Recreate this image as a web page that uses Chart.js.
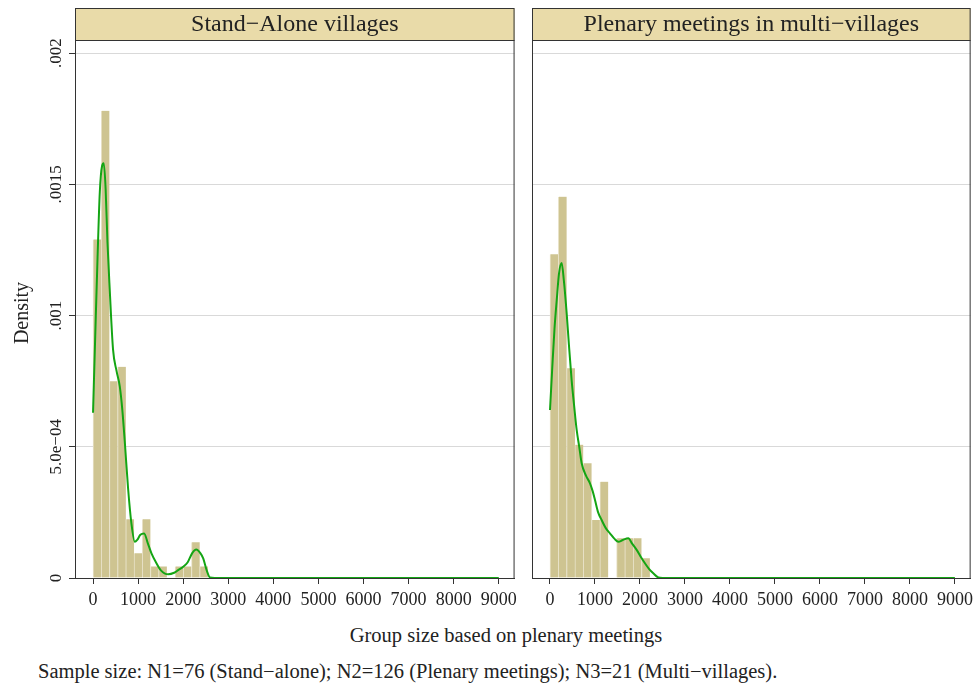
<!DOCTYPE html>
<html>
<head>
<meta charset="utf-8">
<script src="https://cdn.jsdelivr.net/npm/chart.js@4.4.0/dist/chart.umd.min.js"></script>
<style>
  body { margin: 0; background: #fff; overflow: hidden; }
  #wrap { position: relative; width: 975px; height: 688px; overflow: hidden; font-family: "Liberation Serif", serif; color: #222; }
  canvas { position: absolute; top: 0; }
  #left { left: 0; }
  #right { left: 526px; }
  .txt { position: absolute; white-space: nowrap; }
  #xtitle { left: 0; width: 1012px; text-align: center; top: 624px; font-size: 20.5px; }
  #note { left: 38px; top: 660px; font-size: 20.5px; }
</style>
</head>
<body>
<div id="wrap">
  <canvas id="left" width="522" height="620"></canvas>
  <canvas id="right" width="452" height="620"></canvas>
  <div class="txt" id="xtitle">Group size based on plenary meetings</div>
  <div class="txt" id="note">Sample size: N1=76 (Stand&minus;alone); N2=126 (Plenary meetings); N3=21 (Multi&minus;villages).</div>
</div>
<script>
// Stand-Alone villages
const leftBinWidth = 182;
const leftBars = [0.00129, 0.00178, 0.00075, 0.000805, 0.000224, 0.000094, 0.000224,
  0.000044, 0.000044, 0, 0.000044, 0.000044, 0.000136, 0.000044];
const leftKdeX = [0, 50, 100, 150, 200, 238, 280, 320, 370, 444, 520, 593, 650, 704, 778, 850,
  926, 980, 1050, 1133, 1220, 1296, 1407, 1500, 1667, 1800, 1889, 2000, 2100, 2200, 2290, 2380,
  2444, 2520, 2593, 2700, 9000];
const leftKdeY = [0.00063, 0.00093, 0.00122, 0.00147, 0.00157, 0.00158, 0.00148, 0.00128, 0.0011,
  0.00087, 0.00079, 0.00073, 0.00064, 0.00052, 0.00034, 0.00021, 0.000138, 0.000145, 0.000165,
  0.00017, 0.00013, 0.000094, 0.000056, 0.00003, 0.000014, 0.00002, 0.00003, 0.000043, 0.00006,
  0.000095, 0.000109, 0.000095, 0.000075, 0.00003, 0.000002, 0, 0];

// Plenary meetings in multi-villages
const rightBinWidth = 185;
const rightBars = [0.001234, 0.001453, 0.000799, 0.000508, 0.000437, 0.000221, 0.000367,
  0, 0.000151, 0.000151, 0.000151, 0.000075];
const rightKdeX = [0, 50, 100, 150, 200, 259, 310, 370, 420, 481, 540, 593, 650, 704, 800, 889,
  950, 1000, 1070, 1148, 1240, 1333, 1430, 1519, 1620, 1741, 1830, 1926, 2020, 2111, 2200, 2296,
  2407, 2500, 9000];
const rightKdeY = [0.00064, 0.0008, 0.00095, 0.00106, 0.00116, 0.0012, 0.00113, 0.00101, 0.00089,
  0.000754, 0.00065, 0.000564, 0.0005, 0.000437, 0.00039, 0.000361, 0.00033, 0.000297, 0.00025,
  0.000221, 0.00019, 0.00017, 0.00015, 0.000138, 0.000145, 0.000151, 0.00013, 0.000107, 0.00008,
  0.000056, 0.000035, 0.000018, 0.000002, 0, 0];

const xTickValues = [0, 1000, 2000, 3000, 4000, 5000, 6000, 7000, 8000, 9000];
const yTickValues = [0, 0.0005, 0.001, 0.0015, 0.002];
const yTickLabels = ["0", "5.0e\u221204", ".001", ".0015", ".002"];
const panelTitles = ["Stand\u2212Alone villages", "Plenary meetings in multi\u2212villages"];

const panelDecor = {
  id: "panelDecor",
  afterDraw(chart, args, opts) {
    const { ctx, chartArea: a } = chart;
    const y = chart.scales.y;
    ctx.save();
    // header strip
    ctx.fillStyle = "#e9dba9";
    ctx.fillRect(a.left, 8, a.right - a.left, a.top - 8);
    ctx.strokeStyle = "#333";
    ctx.lineWidth = 1;
    ctx.strokeRect(a.left + 0.5, 8.5, a.right - a.left - 1, a.top - 8);
    ctx.strokeRect(a.left + 0.5, a.top + 0.5, a.right - a.left - 1, a.bottom - a.top);
    ctx.fillStyle = "#222";
    ctx.font = "24px 'Liberation Serif'";
    ctx.textAlign = "center";
    ctx.textBaseline = "middle";
    ctx.fillText(opts.title, (a.left + a.right) / 2, (8 + a.top) / 2 + 1);
    if (opts.yAxis) {
      ctx.font = "17px 'Liberation Serif'";
      ctx.textBaseline = "alphabetic";
      yTickValues.forEach((v, i) => {
        ctx.save();
        ctx.translate(a.left - 14, y.getPixelForValue(v));
        ctx.rotate(-Math.PI / 2);
        ctx.fillText(yTickLabels[i], 0, 0);
        ctx.restore();
      });
      ctx.font = "20px 'Liberation Serif'";
      ctx.translate(28, (a.top + a.bottom) / 2 + 4);
      ctx.rotate(-Math.PI / 2);
      ctx.fillText("Density", 0, 0);
    }
    ctx.restore();
  },
};

function makePanel(id, title, binWidth, bars, kdeX, kdeY, withYAxis) {
  const barPoints = bars.map((v, i) => ({ x: (i + 0.5) * binWidth, y: v }));
  const kdePoints = kdeX.map((x, i) => ({ x: x, y: kdeY[i] }));
  return new Chart(document.getElementById(id), {
    type: "bar",
    data: {
      datasets: [
        {
          type: "line",
          data: kdePoints,
          borderColor: "rgb(20,165,20)",
          borderWidth: 2,
          pointRadius: 0,
          cubicInterpolationMode: "monotone",
          order: 0,
        },
        {
          data: barPoints,
          backgroundColor: "rgb(206,196,145)",
          borderColor: "rgb(232,226,200)",
          borderWidth: { left: 1, top: 0, right: 0, bottom: 0 },
          barPercentage: 1,
          categoryPercentage: 1,
          grouped: false,
          order: 1,
        },
      ],
    },
    options: {
      responsive: false,
      animation: false,
      layout: { padding: { top: 40, right: withYAxis ? 6 : 3, left: 0, bottom: 0 } },
      plugins: {
        legend: { display: false },
        tooltip: { enabled: false },
        panelDecor: { title: title, yAxis: withYAxis },
      },
      scales: {
        x: {
          type: "linear",
          min: -400,
          max: 9350,
          offset: false,
          grid: { drawOnChartArea: false, drawTicks: true, tickLength: 6, tickColor: "#333", offset: false },
          border: { color: "#333", width: 1 },
          afterBuildTicks: (s) => { s.ticks = xTickValues.map((v) => ({ value: v })); },
          ticks: {
            autoSkip: false,
            maxRotation: 0,
            padding: 5,
            color: "#222",
            font: { family: "Liberation Serif", size: 18 },
            callback: (v) => String(v),
          },
          afterFit: (s) => { s.height = 42; },
        },
        y: {
          min: 0,
          max: 0.00205,
          grid: {
            color: "#d9d9d9",
            lineWidth: 1,
            drawTicks: withYAxis,
            tickLength: withYAxis ? 6 : 0,
            tickColor: "#333",
          },
          border: { color: "#333", width: 1 },
          afterBuildTicks: (s) => { s.ticks = yTickValues.map((v) => ({ value: v })); },
          ticks: { display: false },
          afterFit: (s) => { s.width = withYAxis ? 75 : 6; },
        },
      },
    },
    plugins: [panelDecor],
  });
}

makePanel("left", panelTitles[0], leftBinWidth, leftBars, leftKdeX, leftKdeY, true);
makePanel("right", panelTitles[1], rightBinWidth, rightBars, rightKdeX, rightKdeY, false);
</script>
</body>
</html>
